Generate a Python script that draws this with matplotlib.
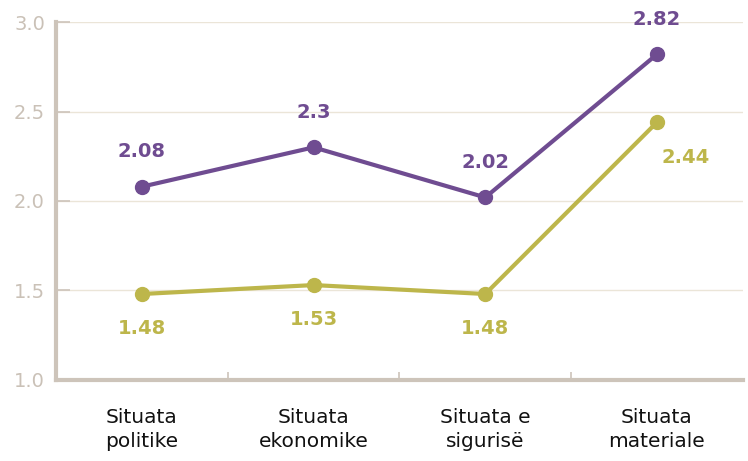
import numpy as np
import matplotlib.pyplot as plt

#data
categories = ['Situata\npolitike', 'Situata\nekonomike', 'Situata e\nsigurisë', 'Situata\nmateriale']
series_purple = [2.08, 2.3, 2.02, 2.82]
series_olive = [1.48, 1.53, 1.48, 2.44]
y_ticks = [1.0, 1.5, 2.0, 2.5, 3.0]

purple = '#6f4c91'
olive = '#bdb64b'
axis_col = '#cdc4ba'
grid_col = '#ebe5d8'

plt.rcParams['font.family'] = ['DejaVu Sans']

fig = plt.figure(figsize=(7.48, 4.61), dpi=100)
ax = fig.add_axes([0.075, 0.176, 0.918, 0.776])

x = np.arange(len(categories))
ax.plot(x, series_purple, color=purple, lw=3, marker='o', ms=10, zorder=3)
ax.plot(x, series_olive, color=olive, lw=3, marker='o', ms=10, zorder=3)

#value labels
for i, v in enumerate(series_purple):
    ax.annotate(str(v), (i, v), xytext=(0, 25), textcoords='offset points',
                ha='center', va='center', color=purple, fontsize=14, fontweight='bold')
for i, v in enumerate(series_olive):
    dx = 21 if i == 3 else 0
    ax.annotate(str(v), (i, v), xytext=(dx, -25), textcoords='offset points',
                ha='center', va='center', color=olive, fontsize=14, fontweight='bold')

ax.set_xlim(-0.5, 3.5)
ax.set_ylim(1.0, 3.0)
ax.set_yticks(y_ticks)
ax.set_yticklabels(['%.1f' % t for t in y_ticks])
ax.set_xticks(x)
ax.set_xticklabels(categories, fontsize=14.5, color='#111111', linespacing=1.35)
ax.set_xticks([0.5, 1.5, 2.5], minor=True)

ax.grid(axis='y', color=grid_col, lw=1)
ax.set_axisbelow(True)

for s in ['top', 'right']:
    ax.spines[s].set_visible(False)
for s in ['left', 'bottom']:
    ax.spines[s].set_color(axis_col)
    ax.spines[s].set_linewidth(3)

ax.tick_params(axis='y', direction='in', length=10, width=1.2, color=axis_col,
               labelcolor='#cac1b7', labelsize=14, pad=8)
ax.tick_params(axis='x', which='major', length=0, pad=20)
ax.tick_params(axis='x', which='minor', direction='in', length=6, width=1.2, color=axis_col)

plt.savefig('out.png', dpi=100)
